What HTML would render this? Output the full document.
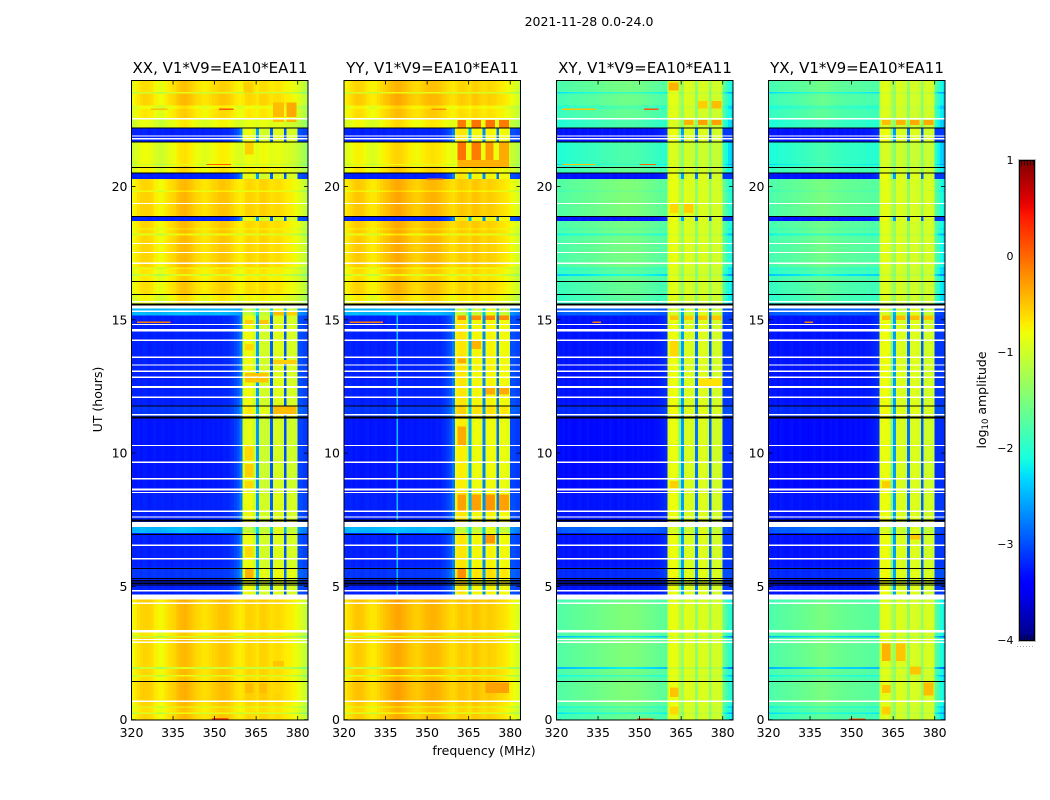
<!DOCTYPE html>
<html>
<head>
<meta charset="utf-8">
<title>2021-11-28 dynamic spectra</title>
<style>
html,body{margin:0;padding:0;background:#fff;}
svg{display:block;}
text{font-family:"DejaVu Sans","Liberation Sans",sans-serif;fill:#000;}
</style>
</head>
<body>
<svg id="chart" xmlns="http://www.w3.org/2000/svg" width="1050" height="800" viewBox="0 0 1050 800">
  <text x="589" y="26" font-size="12.5" text-anchor="middle">2021-11-28 0.0-24.0</text>
  <text x="484" y="755" font-size="12.5" text-anchor="middle">frequency (MHz)</text>
  <text transform="translate(102,399.5) rotate(-90)" font-size="12.5" text-anchor="middle">UT (hours)</text>
  <defs>
    <linearGradient id="jetGradient" x1="0" y1="1" x2="0" y2="0"></linearGradient>
  </defs>
  <g id="panels"></g>
  <g id="colorbar"></g>
  <text transform="translate(986,400) rotate(-90)" font-size="12.5" text-anchor="middle">log<tspan font-size="8.5" dy="2">10</tspan><tspan dy="-2"> amplitude</tspan></text>
</svg>
<script>
// ---- categories and tick labels ----
const panelTitles = ["XX, V1*V9=EA10*EA11", "YY, V1*V9=EA10*EA11", "XY, V1*V9=EA10*EA11", "YX, V1*V9=EA10*EA11"];
const freqTicks = [320, 335, 350, 365, 380];
const timeTicks = [0, 5, 10, 15, 20];
const colorTicks = [1, 0, -1, -2, -3, -4];
const channels = [320,321,322,323,324,325,326,327,328,329,330,331,332,333,334,335,336,337,338,339,340,341,342,343,344,345,346,347,348,349,350,351,352,353,354,355,356,357,358,359,360,361,362,363,364,365,366,367,368,369,370,371,372,373,374,375,376,377,378,379,380,381,382,383];

// ---- spectral profiles: log10 amplitude per channel ----
const brightXX = [-.8,-.72,-.66,-.6,-.58,-.58,-.6,-.62,-.72,-.76,-.8,-.78,-.7,-.65,-.62,-.58,-.52,-.46,-.44,-.42,-.46,-.5,-.55,-.6,-.62,-.66,-.68,-.66,-.62,-.58,-.56,-.52,-.5,-.5,-.52,-.55,-.6,-.66,-.7,-.72,-.68,-.6,-.58,-.6,-.62,-.66,-.58,-.56,-.58,-.62,-.66,-.64,-.62,-.62,-.66,-.7,-.72,-.74,-.78,-.82,-.88,-.96,-1.06,-1.16];
const brightYY = [-.72,-.66,-.62,-.56,-.52,-.52,-.54,-.58,-.64,-.68,-.7,-.68,-.62,-.56,-.52,-.48,-.44,-.4,-.36,-.34,-.36,-.4,-.44,-.48,-.52,-.55,-.56,-.54,-.5,-.46,-.44,-.42,-.42,-.44,-.46,-.5,-.54,-.58,-.62,-.64,-.6,-.54,-.52,-.54,-.56,-.6,-.52,-.5,-.52,-.56,-.6,-.56,-.54,-.56,-.58,-.62,-.64,-.66,-.7,-.74,-.8,-.86,-.92,-1];
const brightXY = [-1.76,-1.75,-1.74,-1.72,-1.7,-1.69,-1.68,-1.67,-1.66,-1.65,-1.64,-1.63,-1.62,-1.61,-1.6,-1.58,-1.56,-1.55,-1.54,-1.53,-1.52,-1.51,-1.5,-1.49,-1.48,-1.48,-1.48,-1.49,-1.5,-1.51,-1.52,-1.54,-1.56,-1.58,-1.6,-1.62,-1.64,-1.66,-1.68,-1.7,-.9,-.84,-.82,-.84,-1.15,-1.3,-.9,-.9,-.92,-.94,-1.35,-.94,-.92,-.92,-.96,-1.35,-.98,-.96,-.96,-1,-1.65,-1.82,-1.98,-2.1];
const brightYX = [-1.8,-1.78,-1.76,-1.74,-1.72,-1.72,-1.7,-1.7,-1.68,-1.66,-1.66,-1.64,-1.62,-1.62,-1.6,-1.58,-1.56,-1.54,-1.52,-1.52,-1.52,-1.54,-1.56,-1.58,-1.6,-1.62,-1.62,-1.64,-1.64,-1.66,-1.66,-1.66,-1.66,-1.68,-1.68,-1.7,-1.7,-1.72,-1.72,-1.74,-.94,-.88,-.86,-.88,-1.15,-1.32,-.92,-.92,-.94,-.96,-1.35,-.94,-.94,-.96,-1,-1.35,-.96,-.94,-.94,-.98,-1.7,-1.88,-2.05,-2.2];
const quietXX = [-3.2,-3.22,-3.2,-3.24,-3.2,-3.22,-3.25,-3.22,-3.2,-3.24,-3.22,-3.2,-3.24,-3.22,-3.25,-3.22,-3.2,-3.22,-3.24,-3.2,-3.22,-3.24,-3.2,-3.22,-3.2,-3.24,-3.22,-3.2,-3.22,-3.2,-3.22,-3.2,-3.22,-3.18,-3.2,-3.16,-3.12,-3.04,-2.95,-2.75,-.88,-.82,-.78,-.82,-1.05,-2.6,-1,-.96,-.96,-1,-2.9,-.92,-.88,-.88,-.94,-2.95,-.96,-.94,-.94,-1,-3.0,-3.0,-3.05,-3.05];
const quietYY = [-3.2,-3.22,-3.2,-3.24,-3.2,-3.22,-3.25,-3.22,-3.2,-3.24,-3.22,-3.2,-3.24,-3.22,-3.25,-3.22,-3.2,-3.22,-3.24,-3.2,-3.22,-3.24,-3.2,-3.22,-3.2,-3.24,-3.22,-3.2,-3.22,-3.2,-3.22,-3.2,-3.22,-3.18,-3.2,-3.16,-3.12,-3.04,-2.95,-2.75,-.74,-.68,-.66,-.68,-.95,-2.5,-.8,-.76,-.76,-.8,-2.7,-.78,-.74,-.74,-.8,-2.8,-.8,-.78,-.78,-.86,-3.0,-3.0,-3.05,-3.05];
const quietCross = [-3.25,-3.28,-3.25,-3.3,-3.25,-3.28,-3.3,-3.28,-3.25,-3.3,-3.28,-3.25,-3.3,-3.28,-3.3,-3.28,-3.25,-3.28,-3.3,-3.25,-3.28,-3.3,-3.25,-3.28,-3.25,-3.3,-3.28,-3.25,-3.28,-3.25,-3.28,-3.25,-3.28,-3.25,-3.28,-3.25,-3.25,-3.22,-3.2,-3.15,-.87,-.82,-.8,-.84,-1.5,-2.6,-.94,-.92,-.92,-.97,-2.8,-.94,-.9,-.9,-.97,-2.9,-1,-.97,-.97,-1.02,-3.1,-3.1,-3.1,-3.1];
const cyanCo = [-2.5,-2.48,-2.48,-2.46,-2.46,-2.48,-2.48,-2.5,-2.5,-2.5,-2.5,-2.48,-2.48,-2.46,-2.46,-2.44,-2.44,-2.42,-2.42,-2.42,-2.44,-2.44,-2.46,-2.46,-2.48,-2.48,-2.5,-2.5,-2.48,-2.48,-2.46,-2.46,-2.46,-2.48,-2.48,-2.5,-2.52,-2.54,-2.56,-2.6,-1.1,-1.05,-1.05,-1.1,-1.5,-2.3,-1.05,-1.05,-1.05,-1.1,-2.4,-.9,-.85,-.85,-.95,-2.5,-1.1,-1.05,-1.05,-1.15,-2.65,-2.7,-2.75,-2.8];
const cyanCross = [-2.95,-2.95,-2.92,-2.92,-2.9,-2.9,-2.9,-2.92,-2.92,-2.9,-2.9,-2.88,-2.88,-2.86,-2.86,-2.85,-2.85,-2.84,-2.84,-2.84,-2.85,-2.85,-2.86,-2.86,-2.88,-2.88,-2.9,-2.9,-2.88,-2.88,-2.88,-2.88,-2.9,-2.9,-2.9,-2.92,-2.92,-2.95,-2.95,-2.98,-1,-.95,-.95,-1,-1.5,-2.5,-1.05,-1.02,-1.02,-1.08,-2.6,-.95,-.9,-.9,-1,-2.7,-1.1,-1.05,-1.05,-1.15,-3,-3,-3.05,-3.05];

// ---- time rows: start hour, end hour, sky state, amplitude offset for co-pol and cross-pol ----
const rowStart = [0,.22,.27,.45,.5,.72,1.43,1.62,1.67,1.9,1.97,3.09,3.14,3.36,4.34,4.4,4.7,5.3,5.7,7.0,7.41,8.5,11.33,11.77,15.16,15.55,15.67,15.95,16.44,16.64,16.72,16.9,16.96,18.17,18.23,18.38,18.43,18.7,18.87,19.79,19.85,20.29,20.5,20.71,20.8,20.85,21.67,22.19,22.55,22.9,23.04,23.48,23.54];
const rowEnd = [.22,.27,.45,.5,.72,1.43,1.62,1.67,1.9,1.97,3.09,3.14,3.36,4.34,4.4,4.5,5.3,5.7,7.0,7.22,8.5,11.33,11.77,15.16,15.42,15.67,15.95,16.44,16.64,16.72,16.9,16.96,18.17,18.23,18.38,18.43,18.7,18.87,19.79,19.85,20.29,20.5,20.71,20.8,20.85,21.67,22.19,22.55,22.9,23.04,23.48,23.54,24];
const rowState = ["B","B","B","B","B","B","B","B","B","B","B","B","B","B","B","B","Q","Q","Q","C","Q","Q","Q","Q","C","B","B","B","B","B","B","B","B","B","B","B","B","Q","B","B","B","Q","B","B","B","B","Q","B","B","B","B","B","B"];
const rowGainCo = [0,-.35,-.05,-.35,0,.05,-.03,-.35,0,-.45,0,-.45,-.08,.02,-.4,.05,0,.1,0,0,0,-.05,.1,0,0,-.2,-.18,-.05,-.1,-.4,-.08,-.25,0,-.3,0,-.2,0,0,.02,-.2,0,0,-.15,-.2,-.45,-.22,0,-.25,-.1,-.2,0,-.4,-.05];
const rowGainCross = [-.15,-.5,-.15,-.45,-.05,0,-.1,-.4,-.05,-.7,0,-.7,-.05,0,-.7,-.1,0,.1,0,0,0,-.05,.1,0,0,-.3,-.2,-.15,-.1,-.6,-.2,-.3,-.05,-.4,-.05,-.2,-.05,0,0,-.1,0,0,-.15,-.25,-.5,-.3,0,-.3,-.15,-.3,-.1,-.5,-.05];

// ---- flagged (no-data) gaps and black marker lines, in hours ----
const gapStart = [.67,2.87,2.99,3.27,4.34,4.5,4.8,6.0,6.52,7.22,7.58,7.79,8.5,8.59,8.64,9.01,9.63,10.26,11.41,12.07,12.44,12.82,13.04,13.28,13.57,14.21,14.57,14.8,15.3,15.42,15.65,17.09,17.5,17.84,19.34,21.77,21.87,22.52];
const gapEnd = [.72,2.93,3.03,3.36,4.4,4.7,4.86,6.06,6.58,7.41,7.63,7.84,8.55,8.63,8.68,9.06,9.68,10.31,11.46,12.12,12.52,12.87,13.09,13.33,13.62,14.26,14.65,14.85,15.34,15.55,15.7,17.14,17.55,17.89,19.39,21.82,21.92,22.57];
const blackLines = [1.43,5.05,5.11,5.17,5.23,5.29,5.67,6.95,7.46,7.5,11.31,11.35,11.77,15.56,15.6,15.95,16.44,18.87,20.5,20.71,21.67,22.19];

// ---- localised features: [start hour, end hour, low MHz, high MHz, log10 amplitude] ----
const featuresXX = [[23.5,23.9,360.5,364,-.55],[22.6,23.15,371,375,-.45],[22.6,23.15,376,379.6,-.35],[22.42,22.52,371,375,-.45],[22.42,22.52,376,379.6,-.4],[21.2,21.65,361,364,-.55],[15.16,15.3,371,375,-.45],[15.16,15.3,376,380,-.55],[14.85,15,361,364,-.55],[14.85,15,366,369.5,-.5],[13.85,14.1,361,364,-.6],[13.34,13.5,371,379.5,-.55],[12.65,13,361,369.5,-.5],[11.47,11.75,371,379.5,-.45],[9.75,10.25,361,364,-.6],[9.1,9.6,361,364,-.55],[8.7,8.95,361,364,-.6],[6.1,6.5,361,364,-.6],[5.3,5.65,361,364,-.4],[1,1.35,361,364,-.45],[1,1.35,366,369,-.45],[1,1.35,371,375,-.6],[2,2.2,371,375,-.5],[22.87,22.92,351.5,356.8,.1],[22.87,22.92,327,333,-.45],[20.8,20.85,347,356,.05],[14.88,14.94,322,334,-.1],[0,.06,349,355,.1]];
const featuresYY = [[21,21.65,361,364,-.05],[21,21.65,366,369.5,-.1],[21,21.65,371,374,-.25],[21,21.65,376,379.5,-.35],[20.72,21,361,379.5,-.38],[22.22,22.5,361,364,-.1],[22.22,22.5,366,369.5,-.05],[22.22,22.5,371,374.5,-.05],[22.22,22.5,376,379.5,-.1],[15,15.16,361,364,-.2],[15,15.16,366,369.5,-.2],[15,15.16,371,374.5,-.15],[15,15.16,376,379.5,-.2],[13.9,14.2,366,369.5,-.4],[13.38,13.55,361,364,-.35],[12.2,12.45,371,374.5,-.35],[12.2,12.45,376,379.5,-.35],[7.85,8.45,361,364,-.3],[7.85,8.45,366,369.5,-.3],[7.85,8.45,371,374.5,-.25],[7.85,8.45,376,379.5,-.3],[10.3,11,361,364,-.35],[6.6,6.93,371,374.5,-.25],[5.3,5.65,361,364,-.2],[1,1.4,371,379.5,-.3],[22.87,22.92,351.5,356.8,-.2],[20.25,20.3,350,356,-.1],[14.88,14.94,322,334,-.1],[4.7,15.16,339,339.5,-2.4]];
const featuresXY = [[23.6,23.9,360.5,364,-.4],[22.92,23.2,371,374.5,-.55],[22.92,23.2,376,379.5,-.45],[22.3,22.5,366,369.5,-.4],[22.3,22.5,371,374.5,-.3],[22.3,22.5,376,379.5,-.3],[19,19.34,361,364,-.6],[19,19.34,366,369.5,-.55],[15,15.16,361,364,-.5],[15,15.16,366,369.5,-.55],[15,15.16,371,374.5,-.5],[15,15.16,376,379.5,-.5],[13.62,14.2,361,364,-.6],[12.52,12.8,371,379.5,-.65],[8.7,8.95,361,364,-.55],[.85,1.2,361,364,-.5],[.2,.5,361,364,-.6],[22.87,22.92,351.5,356.8,.1],[22.87,22.92,322,334,-.5],[20.8,20.85,350,356,.05],[20.8,20.85,322,334,-.45],[14.88,14.94,333,336,-.1],[0,.05,349,355,.1]];
const featuresYX = [[2.2,2.85,361,364,-.4],[2.2,2.85,366,369.5,-.5],[.9,1.4,376,379.5,-.45],[1,1.3,361,364,-.5],[1.7,2,371,375,-.5],[.2,.5,361,364,-.55],[22.3,22.5,361,364,-.45],[22.3,22.5,366,369.5,-.4],[22.3,22.5,371,374.5,-.35],[22.3,22.5,376,379.5,-.35],[15,15.16,361,364,-.45],[15,15.16,366,369.5,-.45],[15,15.16,371,374.5,-.45],[15,15.16,376,379.5,-.5],[6.75,6.93,371,375,-.5],[8.7,8.95,361,364,-.55],[14.88,14.94,333,336,-.1],[0,.05,349,355,.1]];

const brightProfiles = [brightXX, brightYY, brightXY, brightYX];
const quietProfiles = [quietXX, quietYY, quietCross, quietCross];
const cyanProfiles = [cyanCo, cyanCo, cyanCross, cyanCross];
const panelFeatures = [featuresXX, featuresYY, featuresXY, featuresYX];

// ---- axis functions ----
const panelLeft = [131.5, 344, 556.5, 768.5];
const panelWidth = 176.5;
const pxPerMHz = 2.77;
const freqMax = 320 + panelWidth / pxPerMHz;
function xScale(panel, f) { return panelLeft[panel] + (Math.min(f, freqMax) - 320) * pxPerMHz; }
function yScale(t) { return 719.7 - 26.66 * t; }
function interp(stops, x) {
  for (let i = 1; i < stops.length; i++) {
    if (x <= stops[i][0]) {
      const a = stops[i - 1], b = stops[i];
      return a[1] + (b[1] - a[1]) * (x - a[0]) / (b[0] - a[0]);
    }
  }
  return stops[stops.length - 1][1];
}
const jetR = [[0,0],[.35,0],[.66,1],[.89,1],[1,.5]];
const jetG = [[0,0],[.125,0],[.375,1],[.64,1],[.91,0],[1,0]];
const jetB = [[0,.5],[.11,1],[.34,1],[.65,0],[1,0]];
function colorOf(v) {
  const p = Math.max(0, Math.min(1, (v + 4) / 5));
  return "rgb(" + Math.round(255 * interp(jetR, p)) + "," + Math.round(255 * interp(jetG, p)) + "," + Math.round(255 * interp(jetB, p)) + ")";
}
const NS = "http://www.w3.org/2000/svg";
function make(parent, tag, attrs) {
  const el = document.createElementNS(NS, tag);
  for (const k in attrs) el.setAttribute(k, attrs[k]);
  parent.appendChild(el);
  return el;
}

// ---- gradient for the colorbar ----
const grad = document.getElementById("jetGradient");
for (let i = 0; i <= 50; i++) {
  make(grad, "stop", { offset: (i / 50), "stop-color": colorOf(-4 + 5 * i / 50) });
}

// ---- panels ----
const panelsRoot = document.getElementById("panels");
panelTitles.forEach(function (title, p) {
  const g = make(panelsRoot, "g", {});
  
  

  const heat = make(g, "g", { "shape-rendering": "crispEdges" });
  
  

  rowStart.forEach(function (t0, r) {
    const state = rowState[r];
    const profile = state === "B" ? brightProfiles[p] : state === "Q" ? quietProfiles[p] : cyanProfiles[p];
    const gain = p < 2 ? rowGainCo[r] : rowGainCross[r];
    const yTop = yScale(rowEnd[r]);
    const yBot = yScale(t0);
    channels.forEach(function (f, c) {
      const inBand = f >= 360 && f < 380;
      const v = profile[c] + (inBand && p >= 2 ? gain * 0.3 : gain);
      const x0 = xScale(p, f);
      const x1 = xScale(p, f + 1);
      const cell = make(heat, "rect", { x: x0, y: yTop, width: x1 - x0, height: yBot - yTop, fill: colorOf(v) });
      
      
    });
  });

  panelFeatures[p].forEach(function (d) {
    const x0 = xScale(p, d[2]);
    const mark = make(heat, "rect", { x: x0, y: yScale(d[1]), width: xScale(p, d[3]) - x0, height: yScale(d[0]) - yScale(d[1]), fill: colorOf(d[4]) });
    
    
  });

  gapStart.forEach(function (t0, i) {
    const gap = make(heat, "rect", { x: panelLeft[p], y: yScale(gapEnd[i]), width: panelWidth, height: yScale(t0) - yScale(gapEnd[i]), fill: "#fff" });
    
    
  });

  blackLines.forEach(function (t) {
    const line = make(heat, "rect", { x: panelLeft[p], y: yScale(t) - 0.5, width: panelWidth, height: 1, fill: "#000" });
    
    
  });

  const frame = make(g, "rect", { x: panelLeft[p], y: 80.5, width: panelWidth, height: 639.5, fill: "none", stroke: "#000", "stroke-width": 1 });
  
  

  freqTicks.forEach(function (f) {
    const x = xScale(p, f);
    const bottom = make(g, "line", { x1: x, x2: x, y1: 720, y2: 716, stroke: "#000", "stroke-width": 0.8 });
    
    
    const top = make(g, "line", { x1: x, x2: x, y1: 80.5, y2: 84.5, stroke: "#000", "stroke-width": 0.8 });
    
    
    const label = make(g, "text", { x: x, y: 737, "font-size": 12.5, "text-anchor": "middle" });
    label.textContent = f;
    
    
  });

  timeTicks.forEach(function (t) {
    const y = yScale(t);
    const left = make(g, "line", { x1: panelLeft[p], x2: panelLeft[p] + 4, y1: y, y2: y, stroke: "#000", "stroke-width": 0.8 });
    
    
    const right = make(g, "line", { x1: panelLeft[p] + panelWidth, x2: panelLeft[p] + panelWidth - 4, y1: y, y2: y, stroke: "#000", "stroke-width": 0.8 });
    
    
    const label = make(g, "text", { x: panelLeft[p] - 4, y: y + 4.5, "font-size": 12.5, "text-anchor": "end" });
    label.textContent = t;
    
    
  });

  const titleEl = make(g, "text", { x: panelLeft[p] + 88.5, y: 73, "font-size": 15, "text-anchor": "middle" });
  titleEl.textContent = title;
  
  
});

// ---- colorbar ----
const cb = document.getElementById("colorbar");
const cbX = 1019.5, cbW = 15, cbTop = 160.5, cbH = 480;
function cbY(v) { return cbTop + (1 - v) / 5 * cbH; }
const cbBar = make(cb, "rect", { x: cbX, y: cbTop, width: cbW, height: cbH, fill: "url(#jetGradient)", stroke: "#000", "stroke-width": 1 });


const cbHalo = make(cb, "rect", { x: cbX - 1, y: cbTop - 1, width: cbW + 2, height: cbH + 2, fill: "none", stroke: "#bbb", "stroke-width": 1 });


colorTicks.forEach(function (v) {
  const label = make(cb, "text", { x: 1013.5, y: cbY(v) + 3.5, "font-size": 11, "text-anchor": "end" });
  label.textContent = String(v).replace("-", "\u2212");
  
  
});
[2, 5, 8, 11, 14].forEach(function (dx) {
  const t1 = make(cb, "line", { x1: cbX + dx, x2: cbX + dx, y1: cbTop, y2: cbTop + 5, stroke: "#000", "stroke-width": 0.7 });
  
  
  const t2 = make(cb, "line", { x1: cbX + dx, x2: cbX + dx, y1: cbTop + cbH, y2: cbTop + cbH - 5, stroke: "#000", "stroke-width": 0.7 });
  
  
});
const cbDots = make(cb, "line", { x1: 1017, x2: 1035, y1: 646.5, y2: 646.5, stroke: "#aaa", "stroke-width": 1, "stroke-dasharray": "1 2" });


</script>
</body>
</html>
